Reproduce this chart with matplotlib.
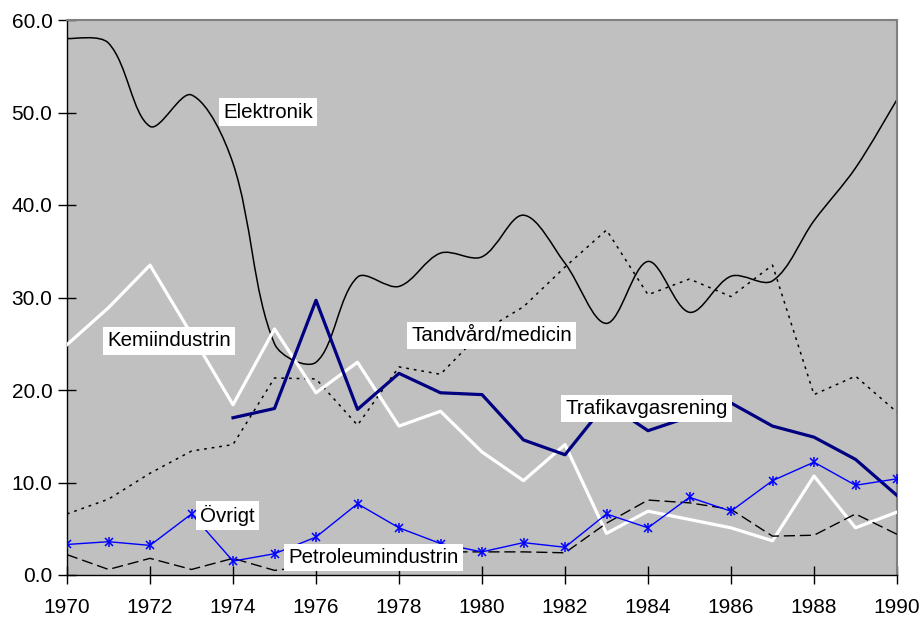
import numpy as np
import matplotlib
matplotlib.use('Agg')
import matplotlib.pyplot as plt
from matplotlib.path import Path
from matplotlib.patches import PathPatch

plt.rcParams['font.family'] = ['Liberation Sans', 'DejaVu Sans']

years = list(range(1970, 1991))

elektronik = [58.0, 57.5, 48.5, 51.9, 44.5, 25.0, 23.0, 32.2, 31.2, 34.8, 34.4,
              38.9, 33.7, 27.2, 33.9, 28.4, 32.3, 31.8, 38.3, 44.0, 51.4]
tandvard = [6.6, 8.2, 11.0, 13.4, 14.1, 21.3, 21.2, 16.2, 22.5, 21.7, 26.3,
            29.0, 33.3, 37.3, 30.3, 32.0, 30.1, 33.5, 19.5, 21.5, 17.6]
kemi = [24.9, 28.9, 33.5, 26.0, 18.4, 26.6, 19.7, 23.0, 16.1, 17.7, 13.3,
        10.2, 14.1, 4.5, 6.9, 6.0, 5.1, 3.7, 10.7, 5.1, 6.8]
trafik_years = list(range(1974, 1991))
trafik = [17.0, 18.0, 29.7, 17.9, 21.8, 19.7, 19.5, 14.6, 13.0, 18.6, 15.6,
          17.1, 18.6, 16.1, 14.9, 12.5, 8.6]
petroleum = [2.2, 0.6, 1.8, 0.6, 1.8, 0.5, 1.0, 1.8, 2.3, 2.5, 2.5,
             2.5, 2.4, 5.6, 8.1, 7.8, 7.1, 4.2, 4.3, 6.6, 4.4]
ovrigt = [3.3, 3.6, 3.2, 6.6, 1.5, 2.3, 4.1, 7.7, 5.1, 3.4, 2.5,
          3.5, 3.0, 6.6, 5.1, 8.4, 6.9, 10.2, 12.2, 9.7, 10.4]

labels = ['Elektronik', 'Kemiindustrin', 'Tandvård/medicin',
          'Trafikavgasrening', 'Övrigt', 'Petroleumindustrin']
label_pos = [(1974.85, 50.05), (1972.46, 25.3), (1980.24, 25.9),
             (1983.96, 18.0), (1973.86, 6.43), (1977.39, 1.89)]


def smooth_path(ax, x, y):
    # smoothed line through the points (bezier, handles scaled by the
    # on-screen segment lengths), built in pixels and mapped back to data
    pts = ax.transData.transform(np.column_stack([x, y]))
    n = len(pts)
    d = np.hypot(*np.diff(pts, axis=0).T)
    verts = [pts[0]]
    for i in range(n - 1):
        a = max(i - 1, 0)
        b = min(i + 2, n - 1)
        din = d[i - 1] if i > 0 else d[i]
        dout = d[i + 1] if i + 1 < n - 1 else d[i]
        t1 = pts[i + 1] - pts[a]
        t2 = pts[b] - pts[i]
        c1 = pts[i] + t1 * (d[i] / (din + d[i])) / 3
        c2 = pts[i + 1] - t2 * (d[i] / (d[i] + dout)) / 3
        verts += [c1, c2, pts[i + 1]]
    verts = ax.transData.inverted().transform(np.array(verts))
    codes = [Path.MOVETO] + [Path.CURVE4] * (3 * (n - 1))
    return Path(verts, codes)


fig = plt.figure(figsize=(9.22, 6.19), dpi=100)
ax = fig.add_axes([67 / 922, 1 - 575 / 619, 830 / 922, 555 / 619])
ax.set_facecolor('#C0C0C0')
ax.set_xlim(1970, 1990)
ax.set_ylim(0, 60)

ax.add_patch(PathPatch(smooth_path(ax, years, elektronik), facecolor='none',
                       edgecolor='black', lw=1.1, zorder=2))
ax.plot(years, tandvard, color='black', lw=1.1, ls=(0, (1.8, 3.2)), zorder=3)
ax.plot(years, kemi, color='white', lw=2.3, zorder=4)
ax.plot(trafik_years, trafik, color='#000080', lw=2.3, zorder=5)
ax.plot(years, petroleum, color='black', lw=1.0, ls=(0, (8, 3.5)), zorder=6)
ax.plot(years, ovrigt, color='#0000FF', lw=1.0, marker='x', ms=6,
        mew=1.1, zorder=7)
ax.plot(years, ovrigt, color='#0000FF', ls='none', marker='|', ms=7,
        mew=1.1, zorder=7)

for text, (lx, ly) in zip(labels, label_pos):
    ax.text(lx, ly, text, fontsize=14.8, ha='center', va='center', zorder=10,
            bbox=dict(boxstyle='square,pad=0.2', facecolor='white',
                      edgecolor='none'))

ax.set_xticks(range(1970, 1991, 2))
ax.set_yticks(range(0, 61, 10))
ax.set_yticklabels(['%.1f' % v for v in range(0, 61, 10)])
ax.tick_params(axis='both', direction='inout', length=13, width=1,
               labelsize=15, color='black')
ax.tick_params(axis='x', pad=10)
ax.tick_params(axis='y', pad=4)

for side in ['top', 'right']:
    ax.spines[side].set_color('#808080')
    ax.spines[side].set_linewidth(1.5)
for side in ['left', 'bottom']:
    ax.spines[side].set_color('black')
    ax.spines[side].set_linewidth(1.0)

fig.savefig('out.png', dpi=100)
